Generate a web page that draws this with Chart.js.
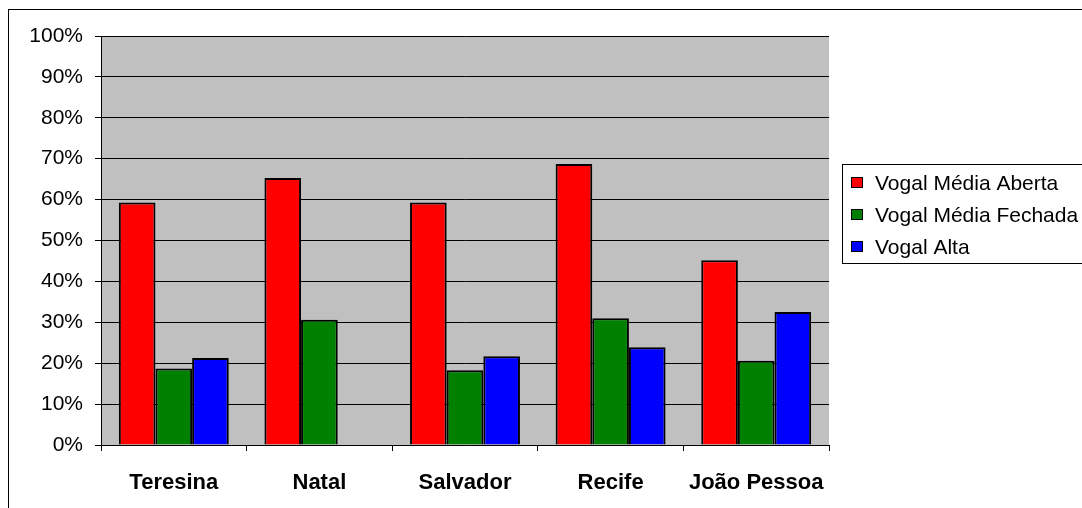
<!DOCTYPE html>
<html>
<head>
<meta charset="utf-8">
<script src="https://cdn.jsdelivr.net/npm/chart.js@4"></script>
<style>
  html,body{margin:0;padding:0;background:#fff;}
  #wrap{width:1082px;height:508px;position:relative;}
</style>
</head>
<body>
<div id="wrap"><canvas id="chart" width="1082" height="508"></canvas></div>
<script>
const cities = ['Teresina', 'Natal', 'Salvador', 'Recife', 'João Pessoa'];
const mediaAberta = [59.3, 65.3, 59.3, 68.7, 45.2];
const mediaFechada = [18.7, 30.6, 18.3, 31.0, 20.6];
const vogalAlta = [21.3, 0, 21.7, 23.9, 32.5];
const seriesNames = ['Vogal Média Aberta', 'Vogal Média Fechada', 'Vogal Alta'];
const seriesColors = ['#ff0000', '#008000', '#0000ff'];

const FONT = 'Arial, "Liberation Sans", sans-serif';

// grey plot area, outer frame and the boxed legend on the right
const framePlugin = {
  id: 'frame',
  beforeDraw(chart){
    const {ctx, chartArea:a} = chart;
    ctx.save();
    ctx.fillStyle = '#c0c0c0';
    ctx.fillRect(a.left, a.top, a.right - a.left, a.bottom - a.top);
    ctx.restore();
  },
  afterDraw(chart){
    const ctx = chart.ctx;
    ctx.save();
    ctx.strokeStyle = '#000';
    ctx.lineWidth = 1;
    ctx.strokeRect(8.5, 9.5, 1100, 600);
    // legend
    ctx.strokeRect(842.5, 164.5, 260, 99);
    ctx.font = '21px ' + FONT;
    ctx.textBaseline = 'middle';
    chart.data.datasets.forEach((ds, i) => {
      const y = 183 + i * 32;
      ctx.fillStyle = ds.backgroundColor;
      ctx.fillRect(851, y - 6, 12, 11);
      ctx.strokeRect(851.5, y - 5.5, 11, 10);
      ctx.fillStyle = '#000';
      ctx.fillText(ds.label, 875, y + 1);
    });
    ctx.restore();
  }
};

new Chart(document.getElementById('chart').getContext('2d'), {
  type: 'bar',
  data: {
    labels: cities,
    datasets: [mediaAberta, mediaFechada, vogalAlta].map((d, i) => ({
      label: seriesNames[i],
      data: d,
      backgroundColor: seriesColors[i],
      borderColor: '#000',
      borderWidth: 2,
      borderSkipped: 'bottom',
      barPercentage: 1,
      categoryPercentage: 0.755
    }))
  },
  options: {
    responsive: false,
    animation: false,
    layout: {padding: {left: 0, top: 36, right: 253, bottom: 0}},
    plugins: {legend: {display: false}, tooltip: {enabled: false}},
    scales: {
      y: {
        min: 0, max: 100,
        ticks: {stepSize: 10, color: '#000', padding: 12, font: {family: FONT, size: 21}, callback: v => v + '%'},
        grid: {color: '#000', lineWidth: 1, tickLength: 6},
        border: {color: '#000', width: 1},
        afterFit: s => { s.width = 101; }
      },
      x: {
        ticks: {color: '#000', padding: 19, font: {family: FONT, size: 22, weight: 'bold'}},
        grid: {drawOnChartArea: false, color: '#000', tickLength: 6, offset: true},
        border: {color: '#000', width: 1},
        afterFit: s => { s.height = 508 - 445; }
      }
    }
  },
  plugins: [framePlugin]
});
</script>
</body>
</html>
